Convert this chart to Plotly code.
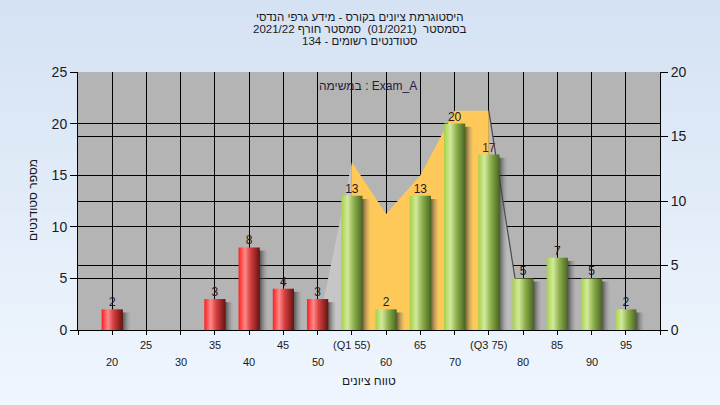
import plotly.graph_objects as go

# ---- data ----
grades = [20, 25, 30, 35, 40, 45, 50, 55, 60, 65, 70, 75, 80, 85, 90, 95]
counts = [2, 0, 0, 3, 8, 4, 3, 13, 2, 13, 20, 17, 5, 7, 5, 2]
tick_labels = ["20", "25", "30", "35", "40", "45", "50", "(Q1 55)",
               "60", "65", "70", "(Q3 75)", "80", "85", "90", "95"]
q1_grade = 55
q3_grade = 75
# distribution band (right axis)
area_x = [50, 55, 60, 65, 70, 75, 80]
area_y = [0, 13, 9, 12, 17, 17, 0]

title_lines = [
    "היסטוגרמת ציונים בקורס - מידע גרפי הנדסי",
    "בסמסטר  (01/2021)  סמסטר חורף 2021/22",
    "סטודנטים רשומים - 134",
]
task_label = "במשימה : Exam_A"
x_title = "טווח ציונים"
y_title = "מספר סטודנטים"

# ---- styling ----
W, H = 720, 405
ML, MR, MT, MB = 78, 60, 72, 75
PW, PH = W - ML - MR, H - MT - MB
FONT = "Liberation Sans, Arial, DejaVu Sans, sans-serif"
TXT = "#1a1a22"
bar_w = 3.1
orange = "#FFC95A"
plot_gray = "#b4b4b4"

red_scale = [[0, "#ff1c1c"], [0.3, "#ff8a8a"], [0.55, "#d84040"], [1, "#661212"]]
green_scale = [[0, "#a6d048"], [0.3, "#d2ea9c"], [0.6, "#8cae4c"], [1, "#4a6620"]]


def py2paper(py):
    return (H - MB - py) / PH


def px2paper(px):
    return (px - ML) / PW


fig = go.Figure()

# band (main axis "y" = right scale): left ramp, Q1..Q3 fill, right ramp
i1 = area_x.index(q1_grade)
i3 = area_x.index(q3_grade)
fig.add_trace(go.Scatter(
    x=[area_x[0], area_x[i1], area_x[i1], area_x[0]],
    y=[area_y[0], area_y[i1], 0, area_y[0]],
    fill="toself", fillcolor="#c6c6c6", mode="lines", line=dict(width=0),
    yaxis="y", hoverinfo="skip", showlegend=False))
fig.add_trace(go.Scatter(
    x=[area_x[i3], area_x[-1], area_x[i3], area_x[i3]],
    y=[area_y[i3], area_y[-1], 0, area_y[i3]],
    fill="toself", fillcolor="#bcbcbc", mode="lines", line=dict(width=0),
    yaxis="y", hoverinfo="skip", showlegend=False))
fig.add_trace(go.Scatter(
    x=area_x[i1:i3 + 1], y=area_y[i1:i3 + 1],
    fill="tozeroy", fillcolor=orange, mode="lines",
    line=dict(width=0, color=orange),
    yaxis="y", hoverinfo="skip", showlegend=False))
fig.add_trace(go.Scatter(
    x=[area_x[i3], area_x[-1]], y=[area_y[i3], area_y[-1]],
    mode="lines", line=dict(width=1.2, color="#4a4a4a"),
    yaxis="y", hoverinfo="skip", showlegend=False))

# shadows (overlay axis "y2" = left scale, counts)
for g, c in zip(grades, counts):
    if c <= 0:
        continue
    x0 = g + bar_w / 2 - 0.3
    x1 = g + bar_w / 2 + 1.2
    top = c - 0.3
    fig.add_trace(go.Scatter(
        x=[x0, x1, x1, x0, x0], y=[0, 0, top, top, 0],
        fill="toself", mode="lines", line=dict(width=0), yaxis="y2",
        fillgradient=dict(type="horizontal",
                          colorscale=[[0, "rgba(25,25,25,0.85)"],
                                      [0.4, "rgba(60,60,60,0.5)"],
                                      [1, "rgba(140,140,140,0)"]]),
        hoverinfo="skip", showlegend=False))

# bars
for g, c in zip(grades, counts):
    if c <= 0:
        continue
    x0 = g - bar_w / 2
    x1 = g + bar_w / 2
    fig.add_trace(go.Scatter(
        x=[x0, x1, x1, x0, x0], y=[0, 0, c, c, 0],
        fill="toself", mode="lines", line=dict(width=0), yaxis="y2",
        fillgradient=dict(type="horizontal",
                          colorscale=red_scale if g < q1_grade else green_scale),
        hoverinfo="skip", showlegend=False))

# value labels
lx = [g for g, c in zip(grades, counts) if c > 0]
ly = [c for c in counts if c > 0]
lcol = ["#6a1414" if c == 17 else TXT for c in ly]
fig.add_trace(go.Scatter(
    x=lx, y=ly, mode="text", text=[str(v) for v in ly], yaxis="y2",
    textposition="top center",
    textfont=dict(family=FONT, size=12, color=lcol),
    hoverinfo="skip", showlegend=False))

# ---- background gradient ----
shapes = []
n = 40
top_c = (213, 226, 243)
bot_c = (239, 246, 254)
for k in range(n):
    t = k / (n - 1)
    col = tuple(round(top_c[j] + (bot_c[j] - top_c[j]) * t) for j in range(3))
    ya = k * H / n
    yb = (k + 1) * H / n + 1
    shapes.append(dict(type="rect", xref="paper", yref="paper", layer="below",
                       x0=px2paper(0), x1=px2paper(W),
                       y0=py2paper(yb), y1=py2paper(ya),
                       line=dict(width=0), fillcolor="rgb(%d,%d,%d)" % col))
shapes.append(dict(type="rect", xref="paper", yref="paper", layer="below",
                   x0=0, x1=1, y0=0, y1=1, line=dict(width=0),
                   fillcolor=plot_gray))

# ---- annotations ----
ann = []
for i, (g, lab) in enumerate(zip(grades, tick_labels)):
    row_py = 345 if i % 2 == 1 else 362
    ann.append(dict(x=g, y=py2paper(row_py), xref="x", yref="paper",
                    text=lab, showarrow=False, yanchor="middle",
                    font=dict(family=FONT, size=11, color=TXT)))
for line, py in zip(title_lines, [17, 29.5, 41]):
    ann.append(dict(x=px2paper(360), y=py2paper(py), xref="paper", yref="paper",
                    text=line, showarrow=False, yanchor="middle",
                    font=dict(family=FONT, size=11.5, color=TXT)))
ann.append(dict(x=px2paper(368), y=py2paper(86), xref="paper", yref="paper",
                text=task_label, showarrow=False, yanchor="middle",
                font=dict(family=FONT, size=12, color="#2a1a3a")))
ann.append(dict(x=px2paper(369), y=py2paper(381), xref="paper", yref="paper",
                text=x_title, showarrow=False, yanchor="middle",
                font=dict(family=FONT, size=12, color=TXT)))
ann.append(dict(x=px2paper(33), y=py2paper(200), xref="paper", yref="paper",
                text=y_title, showarrow=False, textangle=-90,
                xanchor="center", yanchor="middle",
                font=dict(family=FONT, size=12, color=TXT)))

step = grades[1] - grades[0]
xmin, xmax = grades[0] - step, grades[-1] + step

axis_common = dict(ticks="outside", ticklen=7, tickcolor="black",
                   showgrid=True, gridcolor="black", gridwidth=1,
                   showline=True, linecolor="black", linewidth=1,
                   zeroline=False, tickfont=dict(family=FONT, size=14, color=TXT))

fig.update_layout(
    width=W, height=H,
    margin=dict(l=ML, r=MR, t=MT, b=MB, pad=0),
    paper_bgcolor="#e4eef9", plot_bgcolor=plot_gray,
    showlegend=False, shapes=shapes, annotations=ann,
    font=dict(family=FONT, color=TXT),
    hovermode=False, dragmode=False,
    xaxis=dict(range=[xmin, xmax], tickvals=list(range(xmin, xmax + 1, step)),
               showticklabels=False, ticks="outside", ticklen=4,
               tickcolor="black", showgrid=True, gridcolor="black",
               gridwidth=1, showline=True, linecolor="black", linewidth=1,
               zeroline=False, fixedrange=True),
    # right-hand scale (band)
    yaxis=dict(range=[0, 20], dtick=5, side="right", fixedrange=True,
               **axis_common),
    # left-hand scale (student counts), drawn on top
    yaxis2=dict(range=[0, 25], dtick=5, overlaying="y", side="left",
                fixedrange=True, **axis_common),
)

fig.write_html("out.html", config={"displayModeBar": False},
               post_script="document.body.style.margin='0';")
